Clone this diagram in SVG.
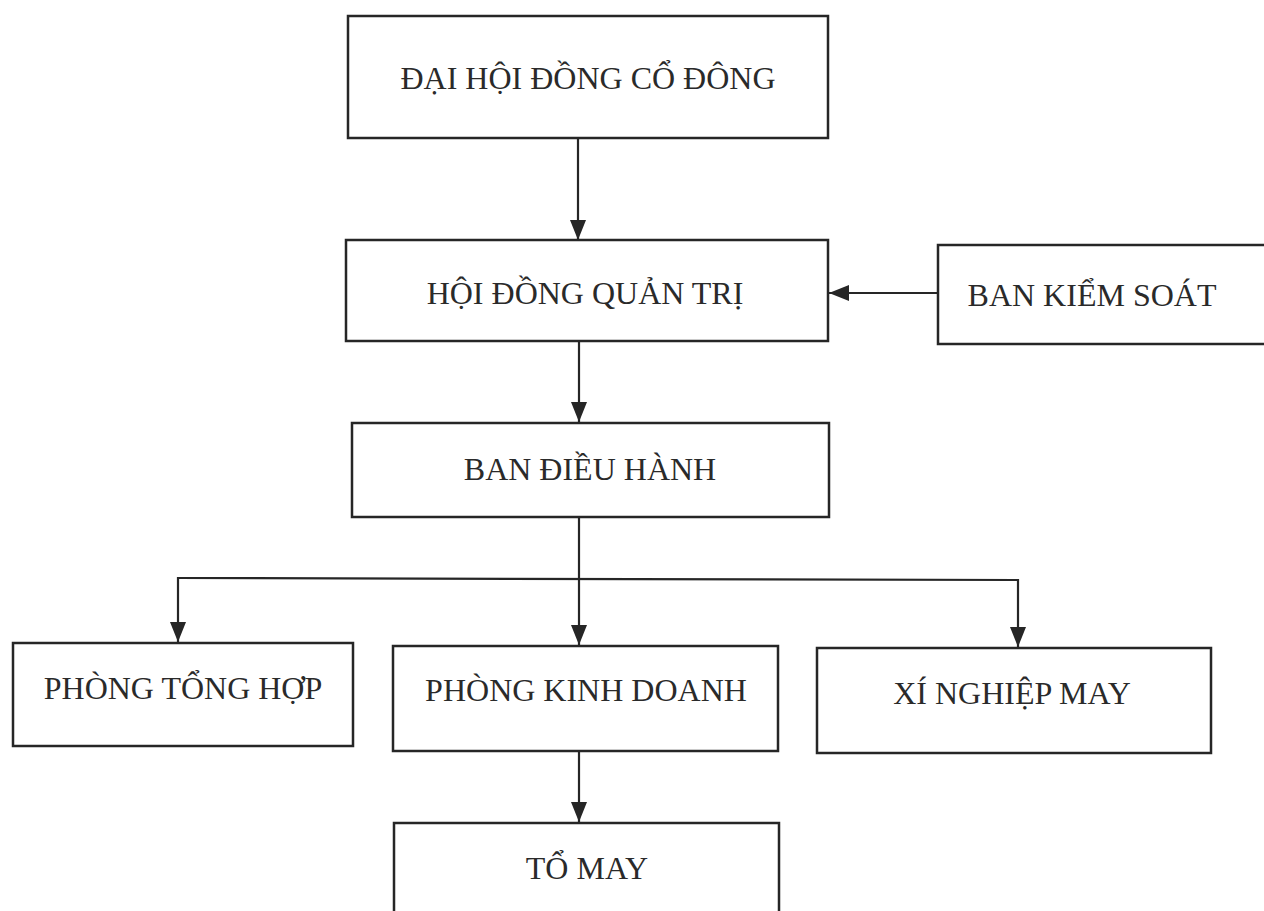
<svg xmlns="http://www.w3.org/2000/svg" width="1264" height="911" viewBox="0 0 1264 911">
  <style>
    .box { fill: #ffffff; stroke: #262626; stroke-width: 2.5; }
    .lbl { font-family: "Liberation Serif", "Times New Roman", serif; font-size: 32px; fill: #2a2a2a; text-anchor: middle; }
    .con { fill: none; stroke: #262626; stroke-width: 2.2; }
  </style>
  <defs>
    <marker id="arr" markerUnits="userSpaceOnUse" markerWidth="22" markerHeight="18" refX="20" refY="9" orient="auto">
      <path d="M0,1 L20,9 L0,17 Z" fill="#262626"/>
    </marker>
  </defs>
  <rect width="1264" height="911" fill="#ffffff"/>

  <g id="connectors">
    <line class="con" x1="578" y1="138" x2="578" y2="240" marker-end="url(#arr)"/>
    <line class="con" x1="938" y1="293" x2="829" y2="293" marker-end="url(#arr)"/>
    <line class="con" x1="579" y1="341" x2="579" y2="422" marker-end="url(#arr)"/>
    <line class="con" x1="579" y1="517" x2="579" y2="645" marker-end="url(#arr)"/>
    <line class="con" x1="178" y1="578" x2="1018" y2="580"/>
    <line class="con" x1="178" y1="577" x2="178" y2="642" marker-end="url(#arr)"/>
    <line class="con" x1="1018" y1="579" x2="1018" y2="647" marker-end="url(#arr)"/>
    <line class="con" x1="579" y1="752" x2="579" y2="822" marker-end="url(#arr)"/>
  </g>

  <g id="dai-hoi-dong-co-dong">
    <rect class="box" x="348" y="16" width="480" height="122"/>
    <text class="lbl" x="588" y="89">ĐẠI HỘI ĐỒNG CỔ ĐÔNG</text>
  </g>
  <g id="hoi-dong-quan-tri">
    <rect class="box" x="346" y="240" width="482" height="101"/>
    <text class="lbl" x="585" y="304">HỘI ĐỒNG QUẢN TRỊ</text>
  </g>
  <g id="ban-kiem-soat">
    <rect class="box" x="938" y="245" width="340" height="99"/>
    <text class="lbl" x="1092" y="306">BAN KIỂM SOÁT</text>
  </g>
  <g id="ban-dieu-hanh">
    <rect class="box" x="352" y="423" width="477" height="94"/>
    <text class="lbl" x="590" y="480">BAN ĐIỀU HÀNH</text>
  </g>
  <g id="phong-tong-hop">
    <rect class="box" x="13" y="643" width="340" height="103"/>
    <text class="lbl" x="183" y="699">PHÒNG TỔNG HỢP</text>
  </g>
  <g id="phong-kinh-doanh">
    <rect class="box" x="393" y="646" width="385" height="105"/>
    <text class="lbl" x="586" y="701">PHÒNG KINH DOANH</text>
  </g>
  <g id="xi-nghiep-may">
    <rect class="box" x="817" y="648" width="394" height="105"/>
    <text class="lbl" x="1012" y="704">XÍ NGHIỆP MAY</text>
  </g>
  <g id="to-may">
    <rect class="box" x="394" y="823" width="385" height="110"/>
    <text class="lbl" x="587" y="879">TỔ MAY</text>
  </g>
</svg>
